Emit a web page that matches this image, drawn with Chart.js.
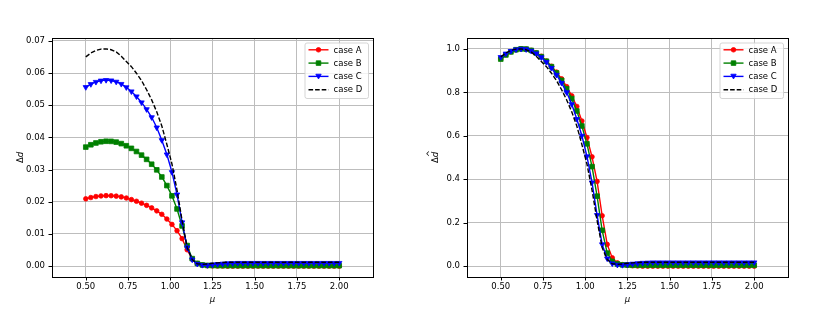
<!DOCTYPE html>
<html><head><meta charset="utf-8">
<script src="https://cdn.jsdelivr.net/npm/chart.js@4.4.0/dist/chart.umd.min.js"></script>
<style>
html,body{margin:0;padding:0;background:#fff;}
#wrap{position:relative;width:830px;height:312px;background:#fff;}
canvas{position:absolute;top:0;}
</style></head><body>
<div id="wrap">
<canvas id="c1" width="415" height="312" style="left:0px"></canvas>
<canvas id="c2" width="415" height="312" style="left:415px"></canvas>
</div>
<script>
// ---------------- data ----------------
const mu = [0.50,0.53,0.56,0.59,0.62,0.65,0.68,0.71,0.74,0.77,0.80,0.83,0.86,0.89,0.92,0.95,0.98,1.01,1.04,1.07,
            1.10,1.13,1.16,1.19,1.22,1.25,1.28,1.31,1.34,1.37,1.40,1.43,1.46,1.49,1.52,1.55,1.58,1.61,1.64,1.67,
            1.70,1.73,1.76,1.79,1.82,1.85,1.88,1.91,1.94,1.97,2.00];

const seriesNames = ['case A','case B','case C','case D'];

// left panel: Δd
const leftA = [0.02091,0.02131,0.02162,0.02181,0.02190,0.02188,0.02175,0.02151,0.02116,0.02067,
               0.02015,0.01956,0.01888,0.01809,0.01717,0.01610,0.01463,0.01296,0.01102,0.00854,
               0.00508,0.00219,0.00083,0.00033,0.00015,0.00009,0.00004,0.00002,0,0,
               0,0,0,0,0,0,0,0,0,0,
               0,0,0,0,0,0,0,0,0,0,0];
const leftB = [0.03698,0.03771,0.03826,0.03864,0.03880,0.03876,0.03853,0.03806,0.03740,0.03659,
               0.03562,0.03449,0.03317,0.03166,0.02991,0.02770,0.02503,0.02184,0.01777,0.01249,
               0.00640,0.00233,0.00085,0.00039,0.00023,0.00019,0.00016,0.00016,0.00016,0.00016,
               0.00016,0.00016,0.00016,0.00016,0.00016,0.00016,0.00016,0.00016,0.00016,0.00016,
               0.00016,0.00016,0.00016,0.00016,0.00016,0.00016,0.00016,0.00016,0.00016,0.00016,0.00016];
const leftC = [0.05560,0.05653,0.05722,0.05763,0.05780,0.05768,0.05728,0.05659,0.05555,0.05427,
               0.05271,0.05086,0.04873,0.04624,0.04306,0.03913,0.03468,0.02919,0.02225,0.01358,
               0.00578,0.00202,0.00069,0.00035,0.00029,0.00046,0.00064,0.00075,0.00087,0.00092,
               0.00098,0.00098,0.00098,0.00098,0.00098,0.00098,0.00098,0.00098,0.00098,0.00098,
               0.00098,0.00098,0.00098,0.00098,0.00098,0.00098,0.00098,0.00098,0.00098,0.00098,0.00098];
const leftD = [0.06500,0.06622,0.06703,0.06743,0.06750,0.06723,0.06656,0.06521,0.06359,0.06197,
               0.05994,0.05765,0.05481,0.05164,0.04793,0.04354,0.03780,0.03173,0.02363,0.01418,
               0.00574,0.00203,0.00074,0.00054,0.00068,0.00088,0.00101,0.00115,0.00122,0.00122,
               0.00122,0.00122,0.00122,0.00122,0.00122,0.00122,0.00122,0.00122,0.00122,0.00122,
               0.00122,0.00122,0.00122,0.00122,0.00122,0.00122,0.00122,0.00122,0.00122,0.00122,0.00122];

// right panel: normalised Δd̂
const rightA = [0.955,0.973,0.987,0.996,1.000,0.999,0.993,0.982,0.966,0.944,
                0.920,0.893,0.862,0.826,0.784,0.735,0.668,0.592,0.503,0.390,
                0.232,0.100,0.038,0.015,0.007,0.004,0.002,0.001,0,0,
                0,0,0,0,0,0,0,0,0,0,
                0,0,0,0,0,0,0,0,0,0,0];
const rightB = [0.953,0.972,0.986,0.996,1.000,0.999,0.993,0.981,0.964,0.943,
                0.918,0.889,0.855,0.816,0.771,0.714,0.645,0.563,0.458,0.322,
                0.165,0.060,0.022,0.010,0.006,0.005,0.004,0.004,0.004,0.004,
                0.004,0.004,0.004,0.004,0.004,0.004,0.004,0.004,0.004,0.004,
                0.004,0.004,0.004,0.004,0.004,0.004,0.004,0.004,0.004,0.004,0.004];
const rightC = [0.962,0.978,0.990,0.997,1.000,0.998,0.991,0.979,0.961,0.939,
                0.912,0.880,0.843,0.800,0.745,0.677,0.600,0.505,0.385,0.235,
                0.100,0.035,0.012,0.006,0.005,0.008,0.011,0.013,0.015,0.016,
                0.017,0.017,0.017,0.017,0.017,0.017,0.017,0.017,0.017,0.017,
                0.017,0.017,0.017,0.017,0.017,0.017,0.017,0.017,0.017,0.017,0.017];
const rightD = [0.963,0.981,0.993,0.999,1.000,0.996,0.986,0.966,0.942,0.918,
                0.888,0.854,0.812,0.765,0.710,0.645,0.560,0.470,0.350,0.210,
                0.085,0.030,0.011,0.008,0.010,0.013,0.015,0.017,0.018,0.018,
                0.018,0.018,0.018,0.018,0.018,0.018,0.018,0.018,0.018,0.018,
                0.018,0.018,0.018,0.018,0.018,0.018,0.018,0.018,0.018,0.018,0.018];

// ticks
const xTicks = [0.50,0.75,1.00,1.25,1.50,1.75,2.00];
const xTickLabels = ['0.50','0.75','1.00','1.25','1.50','1.75','2.00'];
const yTicksLeft = [0.00,0.01,0.02,0.03,0.04,0.05,0.06,0.07];
const yTickLabelsLeft = ['0.00','0.01','0.02','0.03','0.04','0.05','0.06','0.07'];
const yTicksRight = [0.0,0.2,0.4,0.6,0.8,1.0];
const yTickLabelsRight = ['0.0','0.2','0.4','0.6','0.8','1.0'];

// ---------------- styling ----------------
const FONT = 'DejaVu Sans';
const FS = 8.5;
Chart.defaults.font.family = FONT;
Chart.defaults.font.size = FS;
Chart.defaults.color = '#000';

const styles = [
  {color:'#ff0000', marker:'circle'},
  {color:'#008000', marker:'rect'},
  {color:'#0000ff', marker:'tri'},
  {color:'#000000', marker:null, dash:[4.6,2.0]}
];

function drawMarker(ctx, m, x, y, color){
  if(!m) return;
  ctx.save();
  ctx.fillStyle = color; ctx.strokeStyle = color; ctx.lineWidth = 0.8;
  ctx.setLineDash([]);
  ctx.beginPath();
  if(m === 'circle') ctx.arc(x, y, 2.3, 0, Math.PI*2);
  else if(m === 'rect') ctx.rect(x-2.3, y-2.3, 4.6, 4.6);
  else if(m === 'tri'){ ctx.moveTo(x-2.7, y-2.2); ctx.lineTo(x+2.7, y-2.2); ctx.lineTo(x, y+2.6); ctx.closePath(); }
  ctx.fill(); ctx.stroke();
  ctx.restore();
}

function makeDataset(i, vals){
  const s = styles[i];
  return {
    label: seriesNames[i],
    data: mu.map((m, k) => ({x: m, y: vals[k]})),
    borderColor: s.color,
    backgroundColor: s.color,
    borderWidth: 1.4,
    borderDash: s.dash || [],
    pointStyle: s.marker === 'tri' ? 'triangle' : (s.marker || false),
    pointRotation: s.marker === 'tri' ? 180 : 0,
    pointRadius: s.marker === 'circle' ? 2.3 : (s.marker === 'rect' ? 3.3 : (s.marker === 'tri' ? 3.1 : 0)),
    pointBorderWidth: 0.8,
    pointBorderColor: s.color,
    pointBackgroundColor: s.color,
    tension: 0,
    fill: false,
    order: 4 - i
  };
}

const mplPlugin = {
  id: 'mpl',
  afterDraw(chart, args, opts){
    const ctx = chart.ctx, a = chart.chartArea;
    const xs = chart.scales.x, ys = chart.scales.y;
    ctx.save();
    // spines
    ctx.strokeStyle = '#000'; ctx.lineWidth = 1; ctx.setLineDash([]);
    ctx.strokeRect(Math.round(a.left) + 0.5, Math.round(a.top) + 0.5, Math.round(a.right - a.left), Math.round(a.bottom - a.top));
    // tick marks
    ctx.beginPath();
    xs.ticks.forEach(t => { const p = Math.round(xs.getPixelForValue(t.value)) + 0.5; ctx.moveTo(p, a.bottom); ctx.lineTo(p, a.bottom + 3.5); });
    ys.ticks.forEach(t => { const p = Math.round(ys.getPixelForValue(t.value)) + 0.5; ctx.moveTo(a.left, p); ctx.lineTo(a.left - 3.5, p); });
    ctx.stroke();
    // x title
    ctx.fillStyle = '#000';
    ctx.textAlign = 'center'; ctx.textBaseline = 'middle';
    ctx.font = 'italic ' + FS + 'px "' + FONT + '"';
    ctx.fillText('μ', (a.left + a.right) / 2, 300);
    // y title: Δ upright, d italic
    ctx.save();
    ctx.translate(20.5, (a.top + a.bottom) / 2);
    ctx.rotate(-Math.PI / 2);
    const f1 = FS + 'px "' + FONT + '"', f2 = 'italic ' + FS + 'px "' + FONT + '"';
    ctx.font = f1; const w1 = ctx.measureText('Δ').width;
    ctx.font = f2; const w2 = ctx.measureText('d').width;
    const x0 = -(w1 + w2) / 2;
    ctx.textAlign = 'left'; ctx.textBaseline = 'middle';
    ctx.font = f1; ctx.fillText('Δ', x0, 0);
    ctx.font = f2; ctx.fillText('d', x0 + w1, 0);
    if (opts.hat) { ctx.font = FS + 'px "' + FONT + '"'; ctx.textAlign = 'center'; ctx.fillText('^', x0 + w1 + w2 / 2 + 0.8, -5.2); }
    ctx.restore();
    // legend
    const bw = 63.5, bh = 55.5;
    const bx = a.right - 4.5 - bw, by = a.top + 5;
    ctx.beginPath();
    const r = 2;
    ctx.moveTo(bx + r, by); ctx.lineTo(bx + bw - r, by); ctx.quadraticCurveTo(bx + bw, by, bx + bw, by + r);
    ctx.lineTo(bx + bw, by + bh - r); ctx.quadraticCurveTo(bx + bw, by + bh, bx + bw - r, by + bh);
    ctx.lineTo(bx + r, by + bh); ctx.quadraticCurveTo(bx, by + bh, bx, by + bh - r);
    ctx.lineTo(bx, by + r); ctx.quadraticCurveTo(bx, by, bx + r, by);
    ctx.closePath();
    ctx.fillStyle = 'rgba(255,255,255,0.8)'; ctx.fill();
    ctx.strokeStyle = '#d0d0d0'; ctx.lineWidth = 0.9; ctx.stroke();
    chart.data.datasets.forEach((ds, i) => {
      const s = styles[i];
      const y = by + 6.8 + 13.3 * i;
      ctx.strokeStyle = s.color; ctx.lineWidth = 1.4;
      ctx.setLineDash(s.dash || []);
      ctx.beginPath(); ctx.moveTo(bx + 3.5, y); ctx.lineTo(bx + 23.5, y); ctx.stroke();
      ctx.setLineDash([]);
      drawMarker(ctx, s.marker, bx + 13.5, y, s.color);
      ctx.fillStyle = '#000'; ctx.font = FS + 'px "' + FONT + '"';
      ctx.textAlign = 'left'; ctx.textBaseline = 'middle';
      ctx.fillText(ds.label, bx + 28.5, y + 0.5);
    });
    ctx.restore();
  }
};

function makeChart(id, sets, yMin, yMax, yTicks, yLabels, hat){
  return new Chart(document.getElementById(id), {
    type: 'line',
    data: { datasets: sets.map((v, i) => makeDataset(i, v)) },
    options: {
      responsive: false, animation: false, devicePixelRatio: 1,
      layout: { padding: { left: 0, right: 42, top: 38, bottom: 0 } },
      plugins: { legend: { display: false }, tooltip: { enabled: false }, mpl: { hat: hat } },
      scales: {
        x: {
          type: 'linear', min: 0.3, max: 2.2,
          afterBuildTicks: s => { s.ticks = xTicks.map(v => ({value: v})); },
          afterFit: s => { s.height = 35; },
          grid: { color: '#bdbdbd', lineWidth: 1, drawTicks: false },
          border: { display: false },
          ticks: { padding: 5, color: '#000', autoSkip: false, maxRotation: 0,
                   callback: (v, i) => xTickLabels[i] }
        },
        y: {
          type: 'linear', min: yMin, max: yMax,
          afterBuildTicks: s => { s.ticks = yTicks.map(v => ({value: v})); },
          afterFit: s => { s.width = 52; },
          grid: { color: '#bdbdbd', lineWidth: 1, drawTicks: false },
          border: { display: false },
          ticks: { padding: 7, color: '#000', autoSkip: false,
                   callback: (v, i) => yLabels[i] }
        }
      }
    },
    plugins: [mplPlugin]
  });
}

makeChart('c1', [leftA, leftB, leftC, leftD], -0.003375, 0.070875, yTicksLeft, yTickLabelsLeft, false);
makeChart('c2', [rightA, rightB, rightC, rightD], -0.05, 1.05, yTicksRight, yTickLabelsRight, true);
</script>
</body></html>
